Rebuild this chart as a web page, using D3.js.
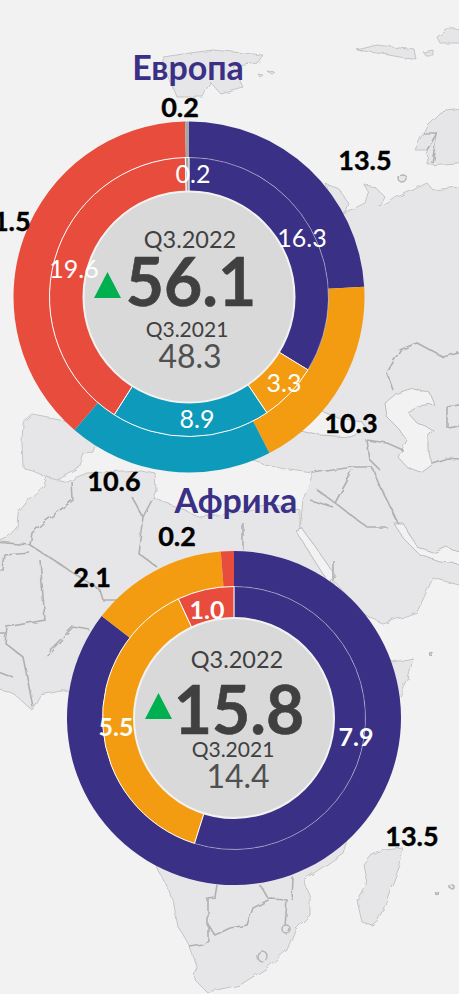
<!DOCTYPE html>
<html>
<head>
<meta charset="utf-8">
<script src="https://d3js.org/d3.v7.min.js"></script>
<style>
  html, body { margin: 0; padding: 0; background: #f2f2f2; overflow: hidden; }
  svg { display: block; }
  text { font-family: "Lato", "Open Sans", sans-serif; }
</style>
</head>
<body>
<div id="chart"></div>
<script>
// chart values
var europeOuter = [13.5, 10.3, 10.6, 21.5, 0.2];
var europeInner = [16.3, 3.3, 8.9, 19.6, 0.2];
var europeColors = ["#3a3086", "#f39c12", "#0e9aba", "#e84c3d", "#a6a6a6"];
var europeTotals = ["56.1", "48.3"];

var africaOuter = [13.5, 2.1, 0.2];
var africaInner = [7.9, 5.5, 1.0];
var africaColors = ["#3a3086", "#f39c12", "#e84c3d"];
var africaTotals = ["15.8", "14.4"];

var periods = ["Q3.2022", "Q3.2021"];
var titles = ["Европа", "Африка"];

// hand placed label anchors, same order as the values above
var europeOuterAt = [[365, 170], [351, 433], [114, 491], [4, 231], [180, 117]];
var europeInnerAt = [[302, 247], [284, 392], [197, 428], [74, 278], [193, 183]];
var africaOuterAt = [[412, 846], [92, 587], [177, 546]];
var africaInnerAt = [[356, 746], [116, 736], [207, 619]];

// backdrop map
var land = [
  // Eurasia and Arabia
  [[345,212],[355,208],[365,203],[368,193],[365,185],[375,187],[385,197],[380,207],[388,203],[397,197],[413,190],[427,183],[433,190],[450,188],[459,187],
   [470,187],[470,585],[459,585],[433,578],[417,612],[383,624],[363,613],[333,580],[300,530],[303,500],[313,473],[290,470],[265,465],[240,455],[200,400],[300,220]],
  // Africa
  [[47,477],[68,482],[77,477],[87,473],[140,470],[155,473],[156,490],[153,498],[177,507],[200,517],[240,512],[270,505],[300,510],[300,530],[333,580],[345,620],[393,662],[413,658],[408,680],[398,700],[380,760],[347,840],[343,853],[323,867],[303,880],[310,897],[310,915],[295,930],[287,950],[267,968],[240,985],[207,992],[195,980],[197,967],[190,947],[178,927],[173,900],[165,882],[157,868],[100,720],[67,690],[40,695],[32,710],[15,695],[-5,687],[-5,543],[7,538],[17,527],[18,513],[30,498],[43,487]],
  // Iberia
  [[23,423],[33,415],[60,420],[100,430],[93,452],[83,453],[77,470],[57,480],[47,477],[23,467],[22,443]],
  [[325,183],[340,190],[348,203],[345,212],[335,215]],
  // Madagascar
  [[403,848],[400,865],[390,890],[385,905],[378,920],[372,925],[362,922],[358,905],[357,900],[365,885],[366,875],[364,865],[372,855],[385,850]],
  [[427,125],[440,112],[470,108],[470,160],[457,163],[428,165],[427,150],[415,150],[423,133]],
  [[357,50],[377,45],[400,48],[415,50],[417,60],[400,57],[377,53]],
  [[437,37],[450,28],[470,27],[470,43],[440,43]],
  [[423,52],[433,50],[433,55],[425,55]],
  [[163,57],[190,53],[213,50],[263,55],[257,63],[233,67],[243,87],[220,93],[210,82],[203,97],[177,97],[173,87],[163,67]],
  [[267,71],[275,72],[272,74]],
  [[258,74],[263,75],[260,77]]
];
var seas = [
  [[300,418],[320,410],[340,418],[362,422],[368,430],[350,437],[320,435],[300,430]],
  [[385,403],[397,393],[413,388],[430,393],[435,405],[417,407],[408,413],[417,423],[433,430],[428,437],[428,450],[432,463],[420,472],[407,467],[398,457],[407,440],[397,427],[387,417]],
  [[295,530],[302,528],[335,575],[330,585]],
  [[393,523],[403,523],[417,547],[433,553],[447,547],[470,557],[470,565],[440,562],[420,555],[405,540]]
];
var borders = [
  [[72,482],[73,500],[43,523],[32,533],[30,545],[-5,542]],
  [[30,545],[100,590],[103,600],[117,600]],
  [[30,553],[5,555],[3,570],[-5,570]],
  [[40,560],[45,620],[7,627],[5,643],[23,657],[33,707]],
  [[50,650],[73,627],[90,630]],
  [[132,497],[143,517],[138,553],[157,567]],
  [[143,517],[153,498]],
  [[243,523],[243,550]],
  [[313,473],[353,467],[372,467]],
  [[372,467],[380,487],[387,500],[398,523]],
  [[335,503],[367,527],[387,527]],
  [[335,503],[353,470]],
  [[317,490],[335,503]],
  [[310,500],[333,507]],
  [[387,373],[400,350],[417,343],[443,357],[470,350]],
  [[387,373],[393,390]],
  [[432,463],[447,458],[470,460]],
  [[367,440],[370,460],[380,470]],
  [[367,440],[387,443],[403,450]],
  [[447,407],[470,403]],
  [[447,407],[447,427],[470,423]],
  [[427,150],[437,133],[423,133]],
  [[437,133],[432,163]],
  [[217,885],[215,897],[208,898],[208,940],[203,945],[190,947]],
  [[208,925],[215,935],[230,928],[247,925],[253,908],[270,899],[287,900],[285,927]],
  [[260,885],[268,898]],
  [[293,877],[292,900]],
  [[333,580],[333,560]],
  [[-5,633],[7,633]],
  [[47,657],[63,640]],
  [[13,677],[-5,670]]
];
var rings = [[402, 178, 4], [262, 956, 5], [286, 929, 4], [430, 653, 1.5], [452, 887, 2], [437, 893, 1.5]];

var width = 459, height = 994;

var svg = d3.select("#chart")
  .append("svg")
    .attr("width", width)
    .attr("height", height);

// rough up the coast lines a little
var rough = svg.append("defs").append("filter")
  .attr("id", "soft")
  .attr("filterUnits", "userSpaceOnUse")
  .attr("x", 0).attr("y", 0)
  .attr("width", width).attr("height", height);
rough.append("feTurbulence")
  .attr("type", "fractalNoise")
  .attr("baseFrequency", 0.09)
  .attr("numOctaves", 2)
  .attr("seed", 4)
  .attr("result", "noise");
rough.append("feDisplacementMap")
  .attr("in", "SourceGraphic")
  .attr("in2", "noise")
  .attr("scale", 5)
  .attr("result", "moved");
rough.append("feGaussianBlur")
  .attr("in", "moved")
  .attr("stdDeviation", 0.6);

// map
var line = d3.line().curve(d3.curveLinear);
var map = svg.append("g").attr("filter", "url(#soft)");

map.selectAll("path.land")
  .data(land)
  .enter()
  .append("path")
    .attr("class", "land")
    .attr("d", function(d) { return line(d) + "Z"; })
    .style("fill", "#e6e6e8")
    .style("stroke", "#c4c4c4")
    .style("stroke-width", 1);

map.selectAll("path.sea")
  .data(seas)
  .enter()
  .append("path")
    .attr("class", "sea")
    .attr("d", function(d) { return line(d) + "Z"; })
    .style("fill", "#f2f2f2")
    .style("stroke", "#bdbdbd")
    .style("stroke-width", 1);

map.selectAll("path.border")
  .data(borders)
  .enter()
  .append("path")
    .attr("class", "border")
    .attr("d", line)
    .style("fill", "none")
    .style("stroke", "#b0b0b0")
    .style("stroke-width", 1.6);

map.selectAll("circle")
  .data(rings)
  .enter()
  .append("circle")
    .attr("cx", function(d) { return d[0]; })
    .attr("cy", function(d) { return d[1]; })
    .attr("r", function(d) { return d[2]; })
    .style("fill", "#e6e6e8")
    .style("stroke", "#b4b4b4")
    .style("stroke-width", 1.5);

function addText(g, str, x, y, size, weight, color, thick) {
  g.append("text")
    .attr("x", x)
    .attr("y", y)
    .attr("text-anchor", "middle")
    .style("font-size", size + "px")
    .style("font-weight", weight)
    .style("fill", color)
    .style("stroke", thick ? color : "none")
    .style("stroke-width", thick || 0)
    .text(str);
}

function drawDonut(o) {
  var pie = d3.pie().sort(null).value(function(d) { return d; });
  var g = svg.append("g");
  var plot = g.append("g").attr("transform", "translate(" + o.cx + "," + o.cy + ")");

  var outerArc = d3.arc().innerRadius(o.r2).outerRadius(o.r3);
  var innerArc = d3.arc().innerRadius(o.r1).outerRadius(o.r2);

  plot.selectAll("path.outer")
    .data(pie(o.outer))
    .enter()
    .append("path")
      .attr("class", "outer")
      .attr("d", outerArc)
      .style("fill", function(d, i) { return o.colors[i]; });

  plot.selectAll("path.inner")
    .data(pie(o.inner))
    .enter()
    .append("path")
      .attr("class", "inner")
      .attr("d", innerArc)
      .style("fill", function(d, i) { return o.colors[i]; })
      .style("stroke", "#ffffff")
      // the edge on the purple slice is much fainter in the picture
      .style("stroke-width", function(d, i) { return i == 0 ? 0.4 : 1; });

  plot.append("circle")
    .attr("r", o.r1)
    .style("fill", "#d9d9d9")
    .style("stroke", "#f2f2f2")
    .style("stroke-width", 2);

  // up arrow
  g.append("path")
    .attr("d", d3.line()([[o.tri[0], o.tri[2]], [o.tri[0] + 13.5, o.tri[1]], [o.tri[0] + 27, o.tri[2]]]) + "Z")
    .style("fill", "#00b050");

  addText(g, o.title, o.titleAt[0], o.titleAt[1], 34, 700, "#3a3086");
  addText(g, periods[0], o.p1[0], o.p1[1], 23.5, 400, "#404040");
  addText(g, o.totals[0], o.t1[0], o.t1[1], 66, 700, "#404040", 0.6);
  addText(g, periods[1], o.p2[0], o.p2[1], 21, 400, "#404040");
  addText(g, o.totals[1], o.t2[0], o.t2[1], 32, 400, "#505050");

  o.outer.forEach(function(v, i) {
    addText(g, v.toFixed(1), o.outerAt[i][0], o.outerAt[i][1], 27, 700, "#000000", 0.4);
  });
  o.inner.forEach(function(v, i) {
    addText(g, v.toFixed(1), o.innerAt[i][0], o.innerAt[i][1], 25, o.innerWeight, "#ffffff");
  });
}

drawDonut({
  cx: 189, cy: 297, r1: 105.5, r2: 139.5, r3: 175.5,
  outer: europeOuter, inner: europeInner, colors: europeColors, totals: europeTotals,
  outerAt: europeOuterAt, innerAt: europeInnerAt, innerWeight: 400,
  title: titles[0], titleAt: [188, 80],
  tri: [94, 272, 298],
  p1: [190, 248], t1: [191, 306], p2: [187, 337], t2: [190, 368]
});

drawDonut({
  cx: 234, cy: 718, r1: 100, r2: 131.5, r3: 167,
  outer: africaOuter, inner: africaInner, colors: africaColors, totals: africaTotals,
  outerAt: africaOuterAt, innerAt: africaInnerAt, innerWeight: 700,
  title: titles[1], titleAt: [236, 513],
  tri: [145, 693, 719],
  p1: [237, 668], t1: [239, 734], p2: [233, 757], t2: [238, 788]
});
</script>
</body>
</html>
